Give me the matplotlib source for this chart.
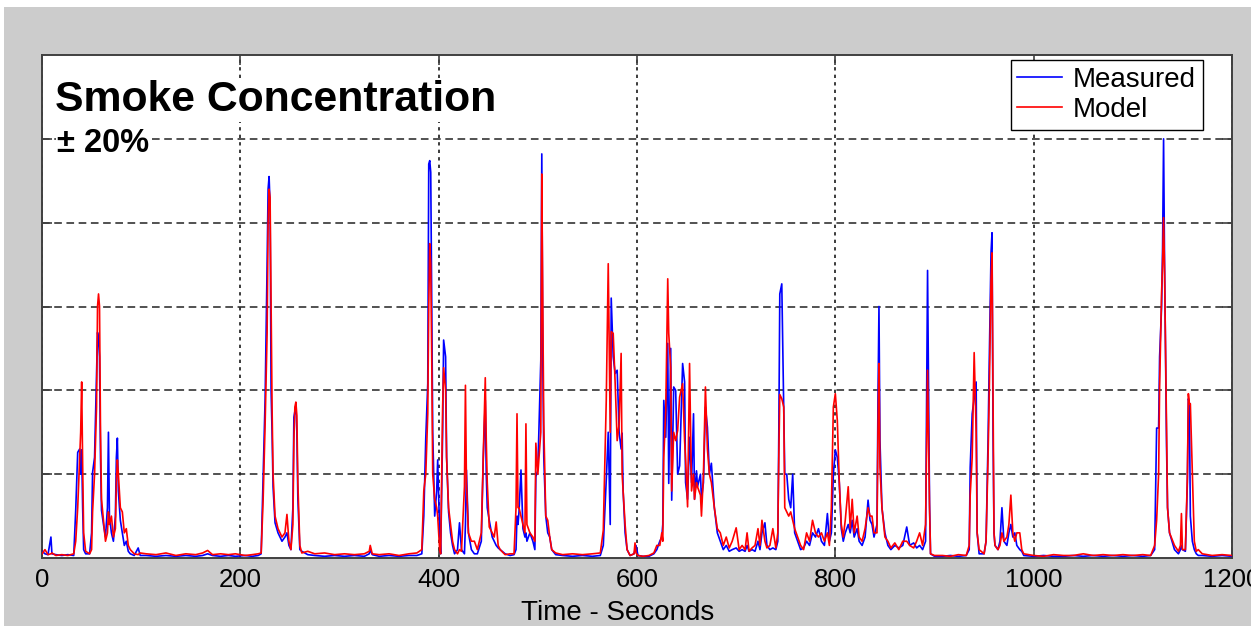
import matplotlib
matplotlib.use('Agg')
import matplotlib.pyplot as plt
import numpy as np

BG = '#CCCCCC'
BLUE = '#0000FF'
RED = '#FF0000'
EDGE = '#404040'

plt.rcParams['font.family'] = ['Liberation Sans', 'DejaVu Sans']

# time (s), measured, model (grid unit = 1)
t_sec = [0, 3, 6, 9, 10, 14, 20, 26, 32, 34, 36, 38, 39, 40, 41, 42, 44, 48, 50, 51,
         53, 55, 56, 57, 58, 59, 60, 62, 64, 66, 67, 68, 70, 72, 74, 75, 76, 77, 79, 81,
         83, 85, 87, 89, 93, 97, 99, 105, 115, 125, 135, 145, 155, 162, 167, 172, 180, 188, 195, 205,
         212, 218, 221, 223, 225, 227, 228, 229, 230, 231, 232, 233, 235, 238, 242, 245, 247, 249, 251, 253,
         254, 255, 256, 257, 258, 260, 262, 268, 275, 285, 295, 305, 315, 325, 330, 331, 333, 340, 350, 360,
         370, 378, 383, 385, 387, 389, 390, 391, 392, 393, 394, 396, 398, 399, 401, 402, 404, 405, 407, 408,
         410, 412, 414, 416, 419, 421, 423, 426, 427, 428, 430, 433, 436, 439, 443, 445, 447, 448, 449, 451,
         454, 456, 458, 460, 462, 467, 472, 476, 478, 479, 480, 481, 483, 485, 487, 488, 489, 492, 495, 497,
         498, 500, 503, 504, 505, 506, 508, 510, 512, 514, 518, 525, 535, 545, 555, 563, 566, 569, 571, 573,
         574, 576, 578, 580, 582, 584, 585, 586, 588, 590, 593, 597, 598, 599, 601, 606, 612, 617, 620, 623,
         625, 626, 627, 629, 631, 632, 634, 635, 637, 639, 641, 643, 646, 648, 649, 651, 653, 655, 657, 658,
         660, 661, 664, 665, 667, 669, 671, 673, 675, 678, 681, 684, 687, 690, 693, 696, 700, 703, 706, 709,
         711, 713, 716, 719, 722, 724, 726, 729, 731, 734, 737, 740, 742, 743, 744, 746, 748, 749, 751, 753,
         755, 757, 759, 762, 765, 768, 771, 774, 777, 780, 783, 786, 789, 792, 794, 796, 798, 800, 802, 804,
         806, 808, 810, 813, 815, 817, 819, 822, 824, 827, 830, 833, 835, 837, 839, 842, 843, 844, 845, 847,
         850, 853, 856, 860, 864, 868, 872, 875, 879, 882, 885, 888, 891, 893, 895, 896, 900, 908, 916, 924,
         932, 935, 936, 938, 940, 942, 943, 945, 950, 952, 954, 955, 957, 958, 959, 960, 961, 964, 966, 968,
         970, 973, 975, 977, 979, 981, 983, 986, 988, 990, 1000, 1010, 1020, 1030, 1040, 1050, 1060, 1070, 1080, 1090,
         1100, 1110, 1118, 1122, 1124, 1126, 1127, 1129, 1130, 1131, 1132, 1134, 1135, 1137, 1142, 1146, 1148, 1149, 1150, 1153,
         1155, 1156, 1157, 1158, 1160, 1162, 1164, 1166, 1170, 1180, 1190, 1200]

measured = [0.08, 0.05, 0.04, 0.25, 0.05, 0.04, 0.03, 0.04, 0.03, 0.57, 1.26, 1.30, 1.00, 1.29, 0.60, 0.10, 0.05, 0.05, 0.30, 1.02,
            1.20, 2.20, 2.69, 2.60, 2.40, 1.20, 0.57, 0.40, 0.25, 0.60, 1.50, 0.50, 0.30, 0.20, 0.50, 1.20, 1.43, 0.80, 0.45, 0.30,
            0.15, 0.20, 0.08, 0.05, 0.03, 0.12, 0.03, 0.03, 0.02, 0.03, 0.02, 0.03, 0.02, 0.03, 0.05, 0.03, 0.02, 0.03, 0.02, 0.03,
            0.02, 0.03, 0.05, 0.96, 1.90, 3.50, 4.40, 4.55, 4.20, 2.00, 1.50, 0.85, 0.42, 0.30, 0.20, 0.25, 0.30, 0.15, 0.10, 0.60,
            1.68, 1.75, 1.82, 1.50, 0.71, 0.10, 0.08, 0.04, 0.03, 0.02, 0.03, 0.02, 0.03, 0.02, 0.05, 0.10, 0.04, 0.02, 0.03, 0.02,
            0.03, 0.03, 0.05, 0.50, 1.43, 2.08, 4.70, 4.74, 4.60, 3.10, 1.50, 0.50, 0.80, 1.17, 0.30, 0.05, 1.50, 2.60, 2.40, 1.20,
            0.55, 0.30, 0.15, 0.05, 0.10, 0.42, 0.10, 0.05, 0.40, 1.05, 0.30, 0.10, 0.05, 0.05, 0.20, 1.20, 1.88, 1.00, 0.60, 0.45,
            0.25, 0.20, 0.15, 0.12, 0.10, 0.05, 0.03, 0.04, 0.10, 0.50, 0.40, 0.55, 1.05, 0.35, 0.25, 0.30, 0.20, 0.30, 0.20, 0.10,
            0.97, 1.05, 2.36, 4.82, 2.36, 1.20, 0.50, 0.30, 0.25, 0.10, 0.04, 0.03, 0.02, 0.03, 0.02, 0.03, 0.15, 0.93, 1.50, 0.40,
            3.10, 2.40, 2.20, 2.24, 1.50, 1.30, 1.49, 0.80, 0.30, 0.10, 0.03, 0.05, 0.10, 0.15, 0.03, 0.02, 0.02, 0.05, 0.10, 0.20,
            0.25, 0.40, 1.88, 1.44, 2.56, 0.89, 2.50, 0.69, 2.04, 2.00, 1.00, 1.10, 2.32, 2.10, 0.90, 0.70, 1.44, 0.90, 1.72, 0.70,
            1.04, 0.85, 1.00, 0.70, 0.90, 1.80, 1.56, 1.00, 1.13, 0.60, 0.30, 0.20, 0.10, 0.15, 0.08, 0.10, 0.12, 0.08, 0.10, 0.08,
            0.15, 0.08, 0.10, 0.08, 0.20, 0.10, 0.30, 0.42, 0.15, 0.10, 0.12, 0.10, 0.20, 1.50, 3.15, 3.27, 1.80, 1.00, 1.00, 0.70,
            0.60, 1.00, 0.30, 0.20, 0.10, 0.12, 0.20, 0.15, 0.30, 0.25, 0.35, 0.20, 0.15, 0.53, 0.20, 0.30, 1.00, 1.29, 1.20, 0.90,
            0.35, 0.20, 0.30, 0.40, 0.30, 0.45, 0.25, 0.35, 0.20, 0.15, 0.25, 0.69, 0.45, 0.40, 0.25, 0.40, 1.88, 3.00, 1.40, 0.60,
            0.30, 0.15, 0.10, 0.15, 0.12, 0.15, 0.37, 0.15, 0.18, 0.12, 0.15, 0.10, 0.20, 3.43, 0.65, 0.05, 0.02, 0.02, 0.03, 0.02,
            0.03, 0.10, 1.08, 1.72, 1.90, 2.10, 0.30, 0.05, 0.05, 0.20, 1.40, 2.18, 3.64, 3.88, 1.50, 0.30, 0.15, 0.10, 0.20, 0.60,
            0.20, 0.15, 0.30, 0.40, 0.25, 0.30, 0.15, 0.10, 0.08, 0.03, 0.02, 0.03, 0.02, 0.02, 0.03, 0.02, 0.03, 0.02, 0.03, 0.02,
            0.03, 0.02, 0.03, 0.10, 1.55, 1.55, 2.40, 3.00, 3.70, 5.00, 3.50, 1.33, 0.60, 0.30, 0.10, 0.05, 0.10, 0.15, 0.10, 0.08,
            0.90, 1.90, 1.85, 0.50, 0.20, 0.10, 0.05, 0.03, 0.03, 0.02, 0.03, 0.02]

model = [0.05, 0.10, 0.04, 0.05, 0.06, 0.03, 0.04, 0.03, 0.05, 0.20, 0.60, 1.20, 1.50, 2.10, 1.10, 0.30, 0.08, 0.05, 0.10, 0.55,
         1.00, 1.80, 3.00, 3.15, 3.00, 1.50, 0.70, 0.45, 0.20, 0.30, 0.55, 0.40, 0.50, 0.25, 0.35, 0.90, 1.17, 1.00, 0.60, 0.55,
         0.30, 0.35, 0.15, 0.10, 0.05, 0.04, 0.06, 0.05, 0.04, 0.06, 0.03, 0.05, 0.04, 0.06, 0.09, 0.04, 0.05, 0.04, 0.05, 0.03,
         0.04, 0.05, 0.06, 0.70, 1.60, 2.68, 4.00, 4.40, 4.30, 3.00, 1.80, 1.00, 0.50, 0.35, 0.25, 0.30, 0.52, 0.20, 0.10, 0.40,
         1.40, 1.80, 1.86, 1.70, 0.90, 0.15, 0.06, 0.08, 0.05, 0.06, 0.04, 0.05, 0.04, 0.05, 0.08, 0.15, 0.05, 0.04, 0.05, 0.03,
         0.05, 0.06, 0.10, 0.80, 1.00, 1.72, 3.00, 3.75, 3.50, 2.40, 1.00, 0.70, 0.60, 0.50, 0.10, 0.05, 1.80, 2.27, 2.00, 1.20,
         0.60, 0.40, 0.20, 0.10, 0.05, 0.10, 0.08, 0.85, 2.06, 0.90, 0.30, 0.20, 0.20, 0.10, 0.30, 1.20, 2.15, 1.40, 0.90, 0.37,
         0.30, 0.25, 0.43, 0.15, 0.10, 0.04, 0.05, 0.05, 0.60, 1.72, 0.60, 0.60, 0.50, 0.40, 0.30, 1.60, 0.40, 0.30, 0.25, 0.20,
         1.37, 1.00, 1.50, 4.58, 3.00, 1.60, 0.50, 0.45, 0.25, 0.10, 0.06, 0.04, 0.05, 0.04, 0.05, 0.06, 0.33, 1.88, 3.51, 1.50,
         2.70, 2.68, 2.08, 1.40, 1.60, 2.44, 1.00, 0.80, 0.40, 0.10, 0.03, 0.05, 0.18, 0.06, 0.03, 0.02, 0.03, 0.06, 0.15, 0.15,
         0.30, 0.20, 1.20, 1.76, 3.33, 2.68, 2.27, 0.80, 1.50, 1.40, 1.52, 1.92, 2.08, 1.40, 1.17, 0.61, 2.32, 0.80, 1.00, 0.70,
         0.90, 0.85, 0.75, 0.50, 1.00, 2.04, 1.30, 1.00, 0.90, 0.60, 0.35, 0.30, 0.15, 0.25, 0.12, 0.20, 0.36, 0.10, 0.15, 0.10,
         0.30, 0.08, 0.12, 0.15, 0.35, 0.15, 0.45, 0.20, 0.12, 0.15, 0.35, 0.12, 0.30, 1.20, 1.95, 1.90, 1.80, 0.60, 0.55, 0.50,
         0.55, 0.45, 0.35, 0.25, 0.15, 0.10, 0.30, 0.20, 0.45, 0.30, 0.25, 0.30, 0.20, 0.30, 0.15, 0.60, 1.80, 1.96, 1.64, 0.90,
         0.40, 0.25, 0.45, 0.85, 0.35, 0.70, 0.30, 0.50, 0.25, 0.20, 0.35, 0.60, 0.50, 0.50, 0.30, 0.30, 1.50, 2.32, 1.08, 0.60,
         0.25, 0.20, 0.12, 0.18, 0.10, 0.20, 0.20, 0.15, 0.12, 0.20, 0.30, 0.15, 0.40, 2.24, 0.60, 0.05, 0.03, 0.03, 0.02, 0.04,
         0.03, 0.15, 0.75, 1.20, 2.45, 1.50, 0.30, 0.10, 0.05, 0.20, 1.20, 1.80, 3.31, 3.64, 2.00, 0.30, 0.15, 0.10, 0.15, 0.30,
         0.20, 0.25, 0.40, 0.75, 0.30, 0.20, 0.30, 0.30, 0.10, 0.05, 0.03, 0.02, 0.04, 0.03, 0.03, 0.05, 0.03, 0.04, 0.03, 0.04,
         0.03, 0.04, 0.03, 0.15, 0.45, 1.00, 2.04, 3.17, 3.50, 4.06, 3.43, 1.60, 0.60, 0.30, 0.15, 0.08, 0.15, 0.53, 0.10, 0.10,
         0.97, 1.96, 1.84, 1.84, 1.00, 0.20, 0.08, 0.10, 0.05, 0.03, 0.04, 0.03]

x_ticks = [0, 200, 400, 600, 800, 1000, 1200]
y_grid = [1, 2, 3, 4, 5]

fig = plt.figure(figsize=(12.51, 6.26), dpi=100)
fig.patch.set_facecolor(BG)
# thin white strips at the top / left edge of the original screenshot
fig.patches.append(plt.Rectangle((0, 1 - 7 / 626), 1, 7 / 626, transform=fig.transFigure,
                                 facecolor='white', edgecolor='none', zorder=0))
fig.patches.append(plt.Rectangle((0, 0), 4 / 1251, 1, transform=fig.transFigure,
                                 facecolor='white', edgecolor='none', zorder=0))

ax = fig.add_axes([42 / 1251, 68 / 626, 1190 / 1251, 503 / 626])
ax.set_facecolor('white')

ax.plot(t_sec, measured, color=BLUE, lw=1.2, label='Measured', zorder=3)
ax.plot(t_sec, model, color=RED, lw=1.2, label='Model', zorder=4)

ax.set_xlim(0, 1200)
ax.set_ylim(0, 6)
ax.set_xticks(x_ticks)
ax.set_xticklabels([str(v) for v in x_ticks], fontsize=18.5)
ax.set_yticks(y_grid)
ax.set_yticklabels([])
ax.tick_params(axis='both', direction='in', length=7, width=1.2, color=EDGE,
               top=True, right=True, pad=7)

ax.xaxis.grid(True, color='#1A1A1A', lw=1.2, linestyle=(0, (2, 2.5)))
ax.yaxis.grid(True, color='#222222', lw=1.1, linestyle=(0, (5, 3)))
ax.set_axisbelow(True)
for s in ax.spines.values():
    s.set_color(EDGE)
    s.set_linewidth(1.4)

ax.set_xlabel('Time - Seconds', fontsize=20, labelpad=6)
ax.xaxis.label.set_x((618 - 42) / 1190)

ax.text(0.011, 5.46, 'Smoke Concentration', transform=ax.get_yaxis_transform(),
        fontsize=30.8, fontweight='bold', va='center', ha='left', zorder=5,
        bbox=dict(facecolor='white', edgecolor='none', pad=1))
ax.text(0.0126, 4.94, '\u00b1 20%', transform=ax.get_yaxis_transform(),
        fontsize=23.5, fontweight='bold', va='center', ha='left', zorder=5,
        bbox=dict(facecolor='white', edgecolor='none', pad=0.5))

leg = ax.legend(loc='upper right', bbox_to_anchor=(1203 / 1251, 1 - 60 / 626),
                bbox_transform=fig.transFigure, fontsize=20, frameon=True,
                fancybox=False, framealpha=1, borderaxespad=0, handlelength=1.6,
                handletextpad=0.4, borderpad=0.25, labelspacing=0.15)
leg.get_frame().set_edgecolor('black')
leg.get_frame().set_linewidth(1.0)
leg.set_zorder(6)

fig.savefig('out.png', dpi=100, facecolor=BG)
